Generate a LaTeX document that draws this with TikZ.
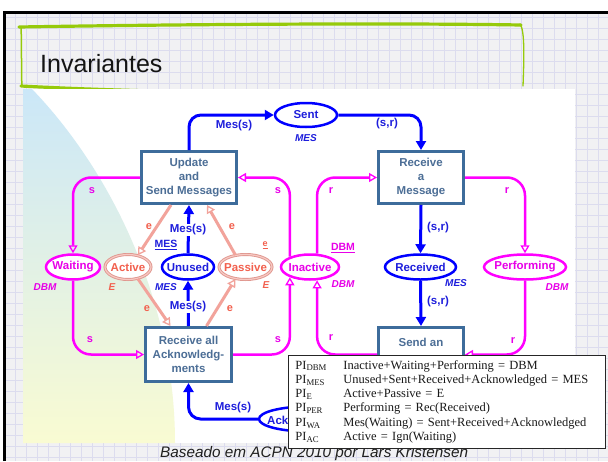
\documentclass[tikz,border=0pt]{standalone}
\usepackage{fontspec}
\setmainfont{Liberation Sans}
\newfontfamily\tabserif{Liberation Serif}
\usetikzlibrary{arrows.meta,calc,shapes.geometric}

\definecolor{netblue}{HTML}{0000FF}
\definecolor{bluetext}{HTML}{1E1EDC}
\definecolor{netmag}{HTML}{FF00FF}
\definecolor{magtext}{HTML}{E800E8}
\definecolor{transblue}{HTML}{3D6C9B}
\definecolor{transtext}{HTML}{4C6E96}
\definecolor{salmonedge}{HTML}{E0978F}
\definecolor{salmonfill}{HTML}{F7C9C3}
\definecolor{salmonarc}{HTML}{F2A39B}
\definecolor{salmontext}{HTML}{F2604E}
\definecolor{slidebg}{HTML}{F1F1F3}
\definecolor{gridline}{HTML}{DCDCEE}
\definecolor{titlegreen}{HTML}{96CA0A}
\definecolor{shadetop}{HTML}{CBE7F8}
\definecolor{shademid}{HTML}{E2F2E6}
\definecolor{shadebot}{HTML}{F9FBD2}

% zero-width text so that ellipse sizes are set by minimum width/height only
\newcommand\ctext[1]{\makebox[0pt]{#1}}

\tikzset{
  trans/.style={rectangle, draw=transblue, line width=3pt, fill=white,
    inner sep=0pt, align=center, text=transtext,
    font=\fontsize{11.5}{14}\selectfont\bfseries},
  place/.style={ellipse, line width=2.5pt, fill=white, inner sep=0pt,
    minimum height=25pt, font=\fontsize{11.5}{14}\selectfont\bfseries},
  bplace/.style={place, draw=netblue, text=bluetext},
  mplace/.style={place, draw=netmag, text=magtext},
  splace/.style={place, draw=salmonedge, double=salmonfill,
    double distance=1.2pt, line width=0.9pt, text=salmontext},
  barc/.style={draw=netblue, line width=3pt, rounded corners=12pt,
    -{Triangle[length=9pt,width=10pt]}},
  marc/.style={draw=netmag, line width=2.5pt, rounded corners=18pt,
    -{Triangle[open,length=8pt,width=9pt,line width=1.3pt]}},
  sarc/.style={draw=salmonarc, line width=3pt,
    -{Triangle[open,length=8pt,width=9pt,line width=1.3pt]}},
  blab/.style={text=bluetext, font=\fontsize{11.5}{14}\selectfont\bfseries, inner sep=1pt},
  mlab/.style={text=magtext, font=\fontsize{11}{13}\selectfont\bfseries, inner sep=1pt},
  slab/.style={text=salmontext, font=\fontsize{11}{13}\selectfont\bfseries, inner sep=1pt},
  ilab/.style={font=\fontsize{10}{12}\selectfont\bfseries\itshape, inner sep=1pt},
  ulab/.style={font=\fontsize{10.5}{12}\selectfont\bfseries, inner sep=1pt},
  gridrule/.style={draw=gridline, line width=0.6pt},
  greenstroke/.style={draw=titlegreen, line cap=round},
}

\begin{document}
\begin{tikzpicture}[x=1pt,y=-1pt]
\useasboundingbox (0,0) rectangle (608,461);

% slide background with graph-paper grid
\fill[white] (0,0) rectangle (608,461);
\fill[slidebg] (4,12) rectangle (608,461);
\foreach \gx in {15,26,...,608} \draw[gridrule] (\gx,12) -- (\gx,461);
\foreach \gy in {17,28,...,461} \draw[gridrule] (4,\gy) -- (608,\gy);
\draw[line width=2.5pt] (4.5,461) -- (4.5,12.5) -- (608,12.5);

% hand-drawn title frame
\draw[greenstroke, line width=3.2pt] (19,27) .. controls (200,24) and (400,23) .. (521,25);
\draw[greenstroke, line width=1.3pt] (520,24) .. controls (525,30) and (524,60) .. (523,86);
\draw[greenstroke, line width=1.5pt] (21,27) .. controls (22,50) and (21,70) .. (22,86);
\draw[greenstroke, line width=3.2pt] (21,86) .. controls (150,93) and (350,95) .. (508,94);
\node[anchor=base west, inner sep=0pt, text=black!92,
  font=\fontsize{25}{30}\selectfont] (title) at (40,72) {Invariantes};

% net area
\fill[white] (23,89) rectangle (575,443);
\shade[top color=shadetop, middle color=shademid, bottom color=shadebot]
  (23,89) -- (32,89) .. controls (110,170) and (175,300) .. (175,443) -- (23,443) -- cycle;

% transitions
\node[trans, minimum width=95pt, minimum height=52pt] (update) at (189,177.5) {Update\\and\\Send Messages};
\node[trans, minimum width=85pt, minimum height=52pt] (recv) at (421,177.5) {Receive\\a\\Message};
\node[trans, minimum width=86pt, minimum height=54pt] (recall) at (188.5,354.5) {Receive all\\Acknowledg-\\ments};
\node[trans, minimum width=85pt, minimum height=54pt] (sendack) at (421,354.5) {};
\node[text=transtext, font=\fontsize{11.5}{14}\selectfont\bfseries] (sendtxt) at (421,342) {Send an};

% places
\node[bplace, minimum width=62pt, minimum height=24pt] (sent) at (306,115) {\ctext{Sent}};
\node[mplace, minimum width=54pt] (waiting) at (73,267) {\ctext{Waiting}};
\node[splace, minimum width=46pt] (active) at (128,267) {\ctext{Active}};
\node[bplace, minimum width=52pt] (unused) at (188,267) {\ctext{Unused}};
\node[splace, minimum width=53pt] (passive) at (245.5,267) {\ctext{Passive}};
\node[mplace, minimum width=58pt] (inactive) at (310,267) {\ctext{Inactive}};
\node[bplace, minimum width=71pt] (received) at (420.5,267) {\ctext{Received}};
\node[mplace, minimum width=82pt] (performing) at (525,267) {\ctext{Performing}};
\node[bplace, minimum width=98pt] (ack) at (308,419) {};
\node[anchor=west, inner sep=0pt, text=bluetext,
  font=\fontsize{11.5}{14}\selectfont\bfseries] (acktxt) at (267,420) {Ack};

% message flow
\draw[barc] (update.north) |- (sent.west);
\draw[barc] (sent.east) -| (recv.north);
\draw[barc] (recv.south) -- (received.north);
\draw[barc] (received.south) -- (sendack.north);
\draw[barc] (unused.north) -- (update.south);
\draw[barc] (recall.north) -- (unused.south);
\draw[barc] (ack.west) -| (recall.south);
\node[blab] (m1) at (234,126) {Mes(s)};
\node[blab] (m2) at (387,124) {(s,r)};
\node[blab] (m3) at (438,228) {(s,r)};
\node[blab] (m4) at (438,302) {(s,r)};
\node[blab, fill=white] (m5) at (188,230) {Mes(s)};
\node[blab, fill=white] (m6) at (188,307) {Mes(s)};
\node[blab] (m7) at (233,408) {Mes(s)};

% sender / receiver states
\draw[marc] (update.west) -| (waiting.north);
\draw[marc] (waiting.south) |- (recall.west);
\draw[marc] (recall.east) -| (inactive.207);
\draw[marc] (inactive.153) |- (update.east);
\draw[marc] (inactive.62) |- (recv.west);
\draw[marc] (sendack.west) -| (inactive.298);
\draw[marc] (recv.east) -| (performing.north);
\draw[marc] (performing.south) |- (sendack.east);
\node[mlab] (s1) at (92,191) {s};
\node[mlab] (s2) at (90,340) {s};
\node[mlab] (s3) at (278,191) {s};
\node[mlab] (s4) at (278,340) {s};
\node[mlab] (r1) at (331,191) {r};
\node[mlab] (r2) at (507,191) {r};
\node[mlab] (r3) at (331,338) {r};
\node[mlab] (r4) at (513,341) {r};

% sending-phase flags
\draw[sarc] ($(update.south)+(-18,0)$) -- (active.50);
\draw[sarc] (active.-50) -- ($(recall.north)+(-18,0)$);
\draw[sarc] ($(recall.north)+(18,0)$) -- (passive.230);
\draw[sarc] (passive.130) -- ($(update.south)+(18,0)$);
\node[slab] (e1) at (149,227) {e};
\node[slab] (e2) at (232,227) {e};
\node[slab] (e3) at (147,309) {e};
\node[slab] (e4) at (230,309) {e};

% colour sets and initial markings
\node[ilab, text=magtext] (c1) at (45,287) {DBM};
\node[ilab, text=salmontext] (c2) at (112,287) {E};
\node[ilab, text=bluetext] (c3) at (166,287) {MES};
\node[ilab, text=salmontext] (c4) at (266,285) {E};
\node[ilab, text=magtext] (c5) at (343,284) {DBM};
\node[ilab, text=bluetext] (c6) at (456,283) {MES};
\node[ilab, text=magtext] (c7) at (557,287) {DBM};
\node[ilab, text=bluetext] (c8) at (306,138) {MES};
\node[ulab, text=bluetext] (i1) at (166,245) {\underline{MES}};
\node[ulab, text=salmontext, font=\fontsize{9}{11}\selectfont\bfseries] (i2) at (265,245) {\underline{e}};
\node[ulab, text=magtext] (i3) at (343,248) {\underline{DBM}};

% credit line and invariant table
\node[anchor=base west, inner sep=0pt, text=black!88,
  font=\fontsize{15.3}{18}\selectfont\itshape] (credit) at (160,457)
  {Baseado em ACPN 2010 por Lars Kristensen};
\node[draw=black!85, line width=0.8pt, fill=white, anchor=north west,
  minimum width=317pt, minimum height=93pt, inner xsep=7pt, inner ysep=3pt,
  text width=303pt, align=left, text=black!90,
  font=\tabserif\fontsize{12.5}{14.3}\selectfont] (inv) at (288,355)
  {\begin{tabular}{@{}p{48pt}@{}l@{}}
   PI\textsubscript{DBM} & Inactive+Waiting+Performing = DBM\\
   PI\textsubscript{MES} & Unused+Sent+Received+Acknowledged = MES\\
   PI\textsubscript{E}   & Active+Passive = E\\
   PI\textsubscript{PER} & Performing = Rec(Received)\\
   PI\textsubscript{WA}  & Mes(Waiting) = Sent+Received+Acknowledged\\
   PI\textsubscript{AC}  & Active = Ign(Waiting)
   \end{tabular}};
\end{tikzpicture}
\end{document}
